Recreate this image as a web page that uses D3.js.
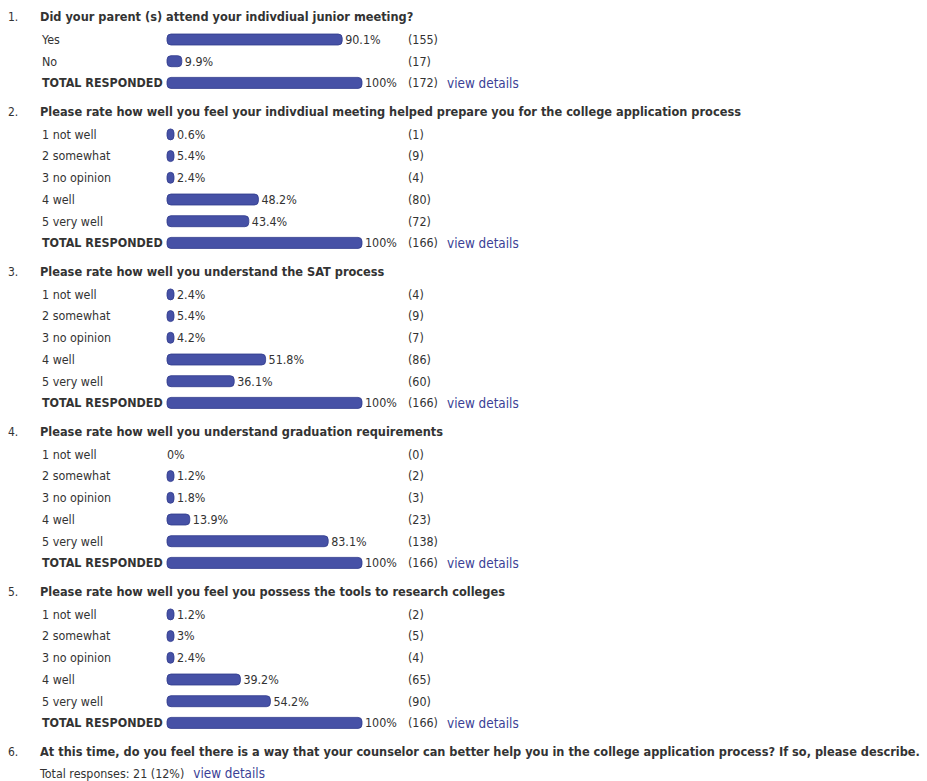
<!DOCTYPE html>
<html>
<head>
  <meta charset="utf-8">
  <script src="https://d3js.org/d3.v7.min.js"></script>
  <style>
    body { margin: 0; background: #fff; }
    text { font-family: "DejaVu Sans Condensed", "DejaVu Sans", sans-serif; fill: #333; }
    .title { font-weight: bold; font-size: 12.65px; }
    .num { font-size: 12px; }
    .label { font-size: 12.4px; }
    .total { font-weight: bold; }
    .link { fill: #3b3f96; font-size: 13.4px; }
  </style>
</head>
<body>
  <svg width="927" height="781"></svg>

  <script>
    // survey questions
    var questions = [
      "Did your parent (s) attend your indivdiual junior meeting?",
      "Please rate how well you feel your indivdiual meeting helped prepare you for the college application process",
      "Please rate how well you understand the SAT process",
      "Please rate how well you understand graduation requirements",
      "Please rate how well you feel you possess the tools to research colleges",
      "At this time, do you feel there is a way that your counselor can better help you in the college application process? If so, please describe."
    ];

    var yesNo = ["Yes", "No"];
    var ratings = ["1 not well", "2 somewhat", "3 no opinion", "4 well", "5 very well"];

    // percent and count per answer
    var q1Pct = [90.1, 9.9];
    var q1Count = [155, 17];
    var q2Pct = [0.6, 5.4, 2.4, 48.2, 43.4];
    var q2Count = [1, 9, 4, 80, 72];
    var q3Pct = [2.4, 5.4, 4.2, 51.8, 36.1];
    var q3Count = [4, 9, 7, 86, 60];
    var q4Pct = [0, 1.2, 1.8, 13.9, 83.1];
    var q4Count = [0, 2, 3, 23, 138];
    var q5Pct = [1.2, 3, 2.4, 39.2, 54.2];
    var q5Count = [2, 5, 4, 65, 90];

    var totals = [172, 166, 166, 166, 166];
    var q6Responses = 21;
    var q6Pct = 12;

    var blocks = [
      { cats: yesNo, pct: q1Pct, count: q1Count },
      { cats: ratings, pct: q2Pct, count: q2Count },
      { cats: ratings, pct: q3Pct, count: q3Count },
      { cats: ratings, pct: q4Pct, count: q4Count },
      { cats: ratings, pct: q5Pct, count: q5Count }
    ];

    var svg = d3.select("svg");

    var x = d3.scaleLinear().domain([0, 100]).range([167, 367]);
    var barEnd = p => p === 0 ? x(0) : Math.max(x(0) + 7, x(p) - 5);
    var barH = 11, rowH = 21.7;
    var countX = 408, linkX = 447;

    // keep a title inside the page width
    function fit(sel) {
      var w = sel.node().getComputedTextLength();
      var maxW = 925 - 40;
      if (w > maxW) sel.attr("textLength", maxW).attr("lengthAdjust", "spacingAndGlyphs");
    }

    var y = 17;
    blocks.forEach(function(b, qi) {
      var g = svg.append("g");
      g.append("text").attr("class", "num").attr("x", 8).attr("y", y).attr("dy", "0.35em").text((qi + 1) + ".");
      g.append("text").attr("class", "title").attr("x", 40).attr("y", y).attr("dy", "0.35em").text(questions[qi]);

      var rows = b.cats.map((c, i) => ({ label: c, pct: b.pct[i], count: b.count[i], total: false }));
      rows.push({ label: "TOTAL RESPONDED", pct: 100, count: totals[qi], total: true });

      rows.forEach(function(r, i) {
        var ry = y + 22.5 + i * rowH;
        g.append("text").attr("class", "label" + (r.total ? " total" : ""))
          .attr("x", 42).attr("y", ry).attr("dy", "0.35em").text(r.label);
        var end = barEnd(r.pct);
        if (r.pct > 0) {
          g.append("rect")
            .attr("x", x(0)).attr("y", ry - barH / 2)
            .attr("width", end - x(0)).attr("height", barH)
            .attr("rx", 4).attr("ry", 4)
            .attr("fill", "#4651a6").attr("stroke", "#2f3a8c").attr("stroke-width", 0.8);
        }
        var tx = r.pct > 0 ? end + 3 : x(0);
        g.append("text").attr("class", "label").attr("x", tx).attr("y", ry).attr("dy", "0.35em")
          .text(r.pct + "%");
        g.append("text").attr("class", "label").attr("x", countX).attr("y", ry).attr("dy", "0.35em")
          .text("(" + r.count + ")");
        if (r.total) {
          g.append("text").attr("class", "link").attr("x", linkX).attr("y", ry).attr("dy", "0.35em")
            .text("view details");
        }
      });
      y = y + 22.5 + (rows.length - 1) * rowH + 29;
    });

    // open-ended question 6
    svg.append("text").attr("class", "num").attr("x", 8).attr("y", y).attr("dy", "0.35em").text("6.");
    svg.append("text").attr("class", "title").attr("x", 40).attr("y", y).attr("dy", "0.35em").text(questions[5])
      .call(fit);
    var t6 = svg.append("text").attr("class", "label").attr("x", 40).attr("y", y + 21.5).attr("dy", "0.35em")
      .text("Total responses: " + q6Responses + " (" + q6Pct + "%)");
    var w6 = t6.node().getComputedTextLength();
    svg.append("text").attr("class", "link").attr("x", 40 + w6 + 9).attr("y", y + 21.5).attr("dy", "0.35em")
      .text("view details");
  </script>
</body>
</html>
